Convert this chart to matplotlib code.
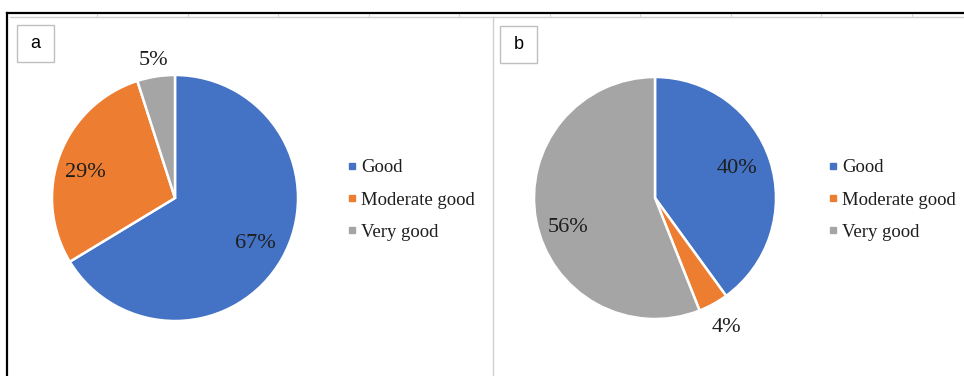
import numpy as np
import matplotlib.pyplot as plt
from matplotlib.patches import Rectangle
from matplotlib.lines import Line2D

# ---------------- DATA ---------------- #
categories = ["Good", "Moderate good", "Very good"]
values_a = [67, 29, 5]
values_b = [40, 4, 56]
panel_labels = ["a", "b"]
colors = ["#4472C4", "#ED7D31", "#A5A5A5"]

W, H = 964, 376


def fx(x):
    return x / W


def fy(y):
    return 1 - y / H


def draw_pie(fig, cx, cy, r, values, label_pos, legend_x):
    """Draw one pie with its percentage labels and legend (pixel coords)."""
    ax = fig.add_axes([fx(cx - r), fy(cy + r), 2 * r / W, 2 * r / H])
    wedges, _ = ax.pie(values, colors=colors, startangle=90, counterclock=False,
                       wedgeprops=dict(edgecolor="white", linewidth=1.8))
    ax.set_xlim(-1, 1)
    ax.set_ylim(-1, 1)
    ax.set_aspect("equal")
    ax.axis("off")

    # labels show the reported percentages, placed like Excel's "best fit"
    for w, v, (d, da) in zip(wedges, values, label_pos):
        ang = np.deg2rad((w.theta1 + w.theta2) / 2 + da)
        ax.text(d * np.cos(ang), d * np.sin(ang), f"{v}%",
                ha="center", va="center", fontsize=16,
                family="Liberation Serif", color="#1E1E1E", clip_on=False)

    handles = [Line2D([], [], marker="s", linestyle="", markersize=4.5,
                      markerfacecolor=c, markeredgecolor=c) for c in colors]
    fig.legend(handles, categories, loc="center left",
               bbox_to_anchor=(fx(legend_x), fy(cy + 2)),
               prop=dict(family="Liberation Serif", size=13.5),
               frameon=False, handlelength=0.6, handletextpad=0.2,
               labelspacing=0.8, borderpad=0, labelcolor="#1E1E1E")


def main():
    fig = plt.figure(figsize=(W / 100, H / 100), dpi=100)

    # spreadsheet background: faint cell lines and frame
    for x in np.arange(97, W, 90.5):
        fig.add_artist(Line2D([fx(x), fx(x)], [fy(13), fy(17)],
                              color="#D9D9D9", lw=0.8))
    fig.add_artist(Line2D([fx(7), fx(W)], [fy(13), fy(13)], color="black", lw=1.6))
    fig.add_artist(Line2D([fx(7), fx(7)], [fy(13), fy(H)], color="black", lw=1.6))
    fig.add_artist(Line2D([fx(10), fx(W)], [fy(17), fy(17)], color="#D0D0D0", lw=1.0))
    fig.add_artist(Line2D([fx(493), fx(493)], [fy(17), fy(H)], color="#D0D0D0", lw=1.0))

    # panel tag boxes
    for (bx, by), lab in zip([(17, 25), (500, 26)], panel_labels):
        fig.add_artist(Rectangle((fx(bx), fy(by + 37)), 37 / W, 37 / H,
                                 transform=fig.transFigure, facecolor="white",
                                 edgecolor="#BFBFBF", lw=1.0))
        fig.text(fx(bx + 18.5), fy(by + 18.5), lab, ha="center", va="center",
                 fontsize=13, family="Liberation Sans")

    draw_pie(fig, 175, 198, 123, values_a,
             [(0.75, 0), (0.76, 4.6), (1.13, 0)], 337)
    draw_pie(fig, 655, 198, 121, values_b,
             [(0.72, 2), (1.22, 0), (0.76, 7.6)], 818)

    fig.savefig("out.png", dpi=100, facecolor="white")


if __name__ == "__main__":
    main()
